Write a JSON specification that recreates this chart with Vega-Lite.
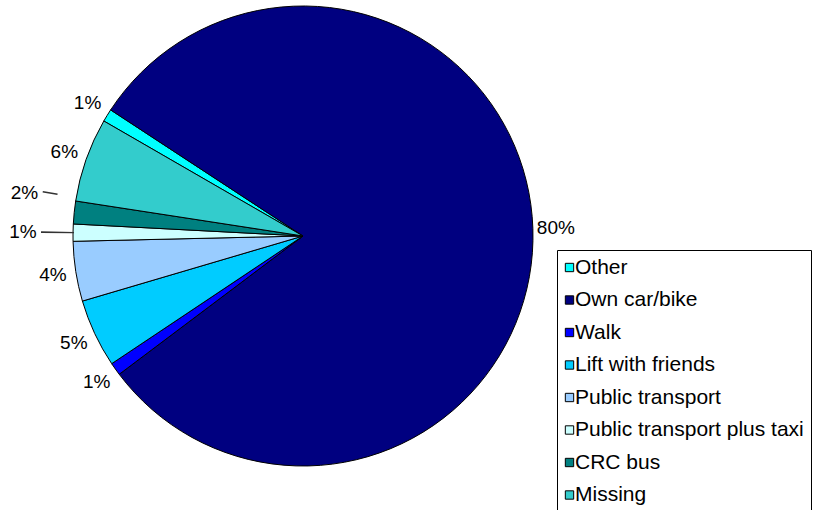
{
  "$schema": "https://vega.github.io/schema/vega-lite/v6.json",
  "autosize": "none",
  "width": 606,
  "height": 472,
  "padding": {"left": 0, "top": 0, "right": 211, "bottom": 38},
  "background": "white",
  "view": {"stroke": null},
  "config": {"font": "Liberation Sans"},
  "datasets": {
    "modes": [
      {"mode": "Other", "pct": 0.9, "label": "1%", "k": 1},
      {"mode": "Own car/bike", "pct": 80.5, "label": "80%", "k": 2},
      {"mode": "Walk", "pct": 0.9, "label": "1%", "k": 3},
      {"mode": "Lift with friends", "pct": 4.8, "label": "5%", "k": 4},
      {"mode": "Public transport", "pct": 4.2, "label": "4%", "k": 5},
      {"mode": "Public transport plus taxi", "pct": 1.2, "label": "1%", "k": 6},
      {"mode": "CRC bus", "pct": 1.6, "label": "2%", "k": 7},
      {"mode": "Missing", "pct": 5.9, "label": "6%", "k": 8}
    ],
    "leaders": [
      {"t": 91.85, "t2": 91.95, "r0": 229, "r1": 262},
      {"t": 94.3, "t2": 94.4, "r0": 249, "r1": 264}
    ]
  },
  "layer": [
    {
      "data": {"name": "modes"},
      "mark": {"type": "arc", "outerRadius": 230, "stroke": "black", "strokeWidth": 1},
      "encoding": {
        "theta": {"field": "pct", "type": "quantitative", "stack": true, "scale": {"domain": [0, 100], "range": [5.235988, 11.519173]}},
        "order": {"field": "k", "type": "quantitative"},
        "color": {
          "field": "mode",
          "type": "nominal",
          "scale": {
            "domain": ["Other", "Own car/bike", "Walk", "Lift with friends", "Public transport", "Public transport plus taxi", "CRC bus", "Missing"],
            "range": ["#00FFFF", "#000080", "#0000FF", "#00CCFF", "#99CCFF", "#CCFFFF", "#008080", "#33CCCC"]
          },
          "legend": {
            "title": null,
            "orient": "none",
            "legendX": 557,
            "legendY": 250,
            "symbolType": "square",
            "symbolSize": 70,
            "symbolStrokeColor": "black",
            "symbolStrokeWidth": 1,
            "symbolOffset": -5,
            "labelFontSize": 21,
            "labelColor": "black",
            "labelFont": "Liberation Sans",
            "labelOffset": -5,
            "labelLimit": 400,
            "rowPadding": 10.5,
            "padding": 7,
            "strokeColor": "black",
            "fillColor": "white"
          }
        }
      }
    },
    {
      "data": {"name": "leaders"},
      "mark": {"type": "arc", "fill": "#333333"},
      "encoding": {
        "theta": {"field": "t", "type": "quantitative"},
        "theta2": {"field": "t2"},
        "radius": {"field": "r1", "type": "quantitative", "scale": null},
        "radius2": {"field": "r0"}
      }
    },
    {
      "data": {"name": "modes"},
      "mark": {"type": "text", "radius": 253, "fontSize": 19, "color": "black"},
      "encoding": {
        "theta": {"field": "pct", "type": "quantitative", "stack": true},
        "order": {"field": "k", "type": "quantitative"},
        "text": {"condition": {"test": "datum.mode !== 'CRC bus' && datum.mode !== 'Public transport plus taxi'", "field": "label"}, "value": ""}
      }
    },
    {
      "data": {"name": "modes"},
      "mark": {"type": "text", "radius": 280, "fontSize": 19, "color": "black"},
      "encoding": {
        "theta": {"field": "pct", "type": "quantitative", "stack": true},
        "order": {"field": "k", "type": "quantitative"},
        "text": {"condition": {"test": "datum.mode === 'Public transport plus taxi'", "field": "label"}, "value": ""}
      }
    },
    {
      "data": {"name": "modes"},
      "mark": {"type": "text", "radius": 280, "dy": -14, "fontSize": 19, "color": "black"},
      "encoding": {
        "theta": {"field": "pct", "type": "quantitative", "stack": true},
        "order": {"field": "k", "type": "quantitative"},
        "text": {"condition": {"test": "datum.mode === 'CRC bus'", "field": "label"}, "value": ""}
      }
    }
  ]
}
